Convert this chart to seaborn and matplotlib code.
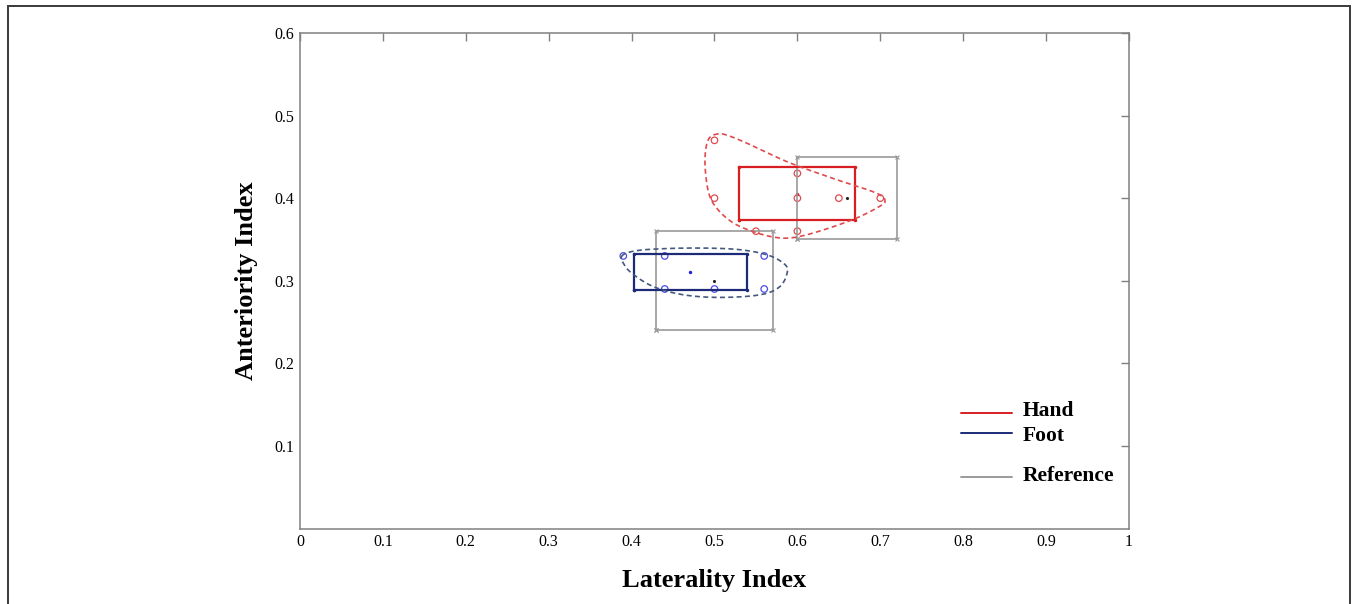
import numpy as np
import pandas as pd
import seaborn as sns
import matplotlib.pyplot as plt
from matplotlib.patches import Rectangle

# measured points
hand_x = [0.50, 0.50, 0.60, 0.60, 0.65, 0.70, 0.55, 0.60]
hand_y = [0.47, 0.40, 0.43, 0.40, 0.40, 0.40, 0.36, 0.36]
foot_x = [0.39, 0.44, 0.56, 0.44, 0.50, 0.56]
foot_y = [0.33, 0.33, 0.33, 0.29, 0.29, 0.29]

# group means
hand_mean = (0.60, 0.405)
foot_mean = (0.47, 0.31)
ref_means_x = [0.66, 0.50]
ref_means_y = [0.40, 0.30]

# boxes: xmin, xmax, ymin, ymax
hand_box = [0.53, 0.67, 0.374, 0.438]
foot_box = [0.403, 0.539, 0.289, 0.332]
ref_hand_box = [0.60, 0.72, 0.35, 0.45]
ref_foot_box = [0.43, 0.57, 0.24, 0.36]

# enclosing outlines
hand_outline_x = [0.5046, 0.4926, 0.4885, 0.4926, 0.5026, 0.5227, 0.551, 0.579, 0.603,
                  0.639, 0.6715, 0.6956, 0.7057, 0.6956, 0.6474, 0.591, 0.543, 0.5187]
hand_outline_y = [0.4778, 0.4709, 0.4446, 0.408, 0.388, 0.370, 0.358, 0.3518, 0.3537,
                  0.364, 0.376, 0.388, 0.396, 0.406, 0.4224, 0.4427, 0.4648, 0.475]
foot_outline_x = [0.388, 0.398, 0.422, 0.474, 0.5267, 0.563, 0.583, 0.588, 0.579,
                  0.555, 0.5066, 0.4624, 0.426, 0.400, 0.390]
foot_outline_y = [0.3295, 0.3348, 0.338, 0.3396, 0.338, 0.3315, 0.3214, 0.3113, 0.293,
                  0.283, 0.2798, 0.283, 0.293, 0.3093, 0.3214]

x_ticks = [0, 0.1, 0.2, 0.3, 0.4, 0.5, 0.6, 0.7, 0.8, 0.9, 1]
x_tick_labels = ["0", "0.1", "0.2", "0.3", "0.4", "0.5", "0.6", "0.7", "0.8", "0.9", "1"]
y_ticks = [0.1, 0.2, 0.3, 0.4, 0.5, 0.6]
y_tick_labels = ["0.1", "0.2", "0.3", "0.4", "0.5", "0.6"]

RED = "#d81e22"
RED_DASH = "#e04a4d"
NAVY = "#1c2a78"
BLUE_DASH = "#44587f"
BLUE_PT = "#4b4be6"
GRAY = "#9a9a9a"


def smooth_closed(xs, ys, n=24):
    # closed Catmull-Rom curve through the outline points
    P = np.column_stack([xs, ys])
    k = len(P)
    t = np.linspace(0, 1, n, endpoint=False)[:, None]
    out = []
    for i in range(k):
        p0, p1, p2, p3 = P[i - 1], P[i], P[(i + 1) % k], P[(i + 2) % k]
        seg = 0.5 * ((2 * p1) + (-p0 + p2) * t + (2 * p0 - 5 * p1 + 4 * p2 - p3) * t ** 2
                     + (-p0 + 3 * p1 - 3 * p2 + p3) * t ** 3)
        out.append(seg)
    out = np.vstack(out + [P[:1]])
    return out[:, 0], out[:, 1]


def box_frame(b):
    x0, x1, y0, y1 = b
    return pd.DataFrame({"x": [x0, x1, x1, x0, x0], "y": [y0, y0, y1, y1, y0]})


sns.set_style("white")
plt.rcParams["font.family"] = ["Liberation Serif", "DejaVu Serif"]
plt.rcParams["text.color"] = "black"

fig = plt.figure(figsize=(13.56, 6.04), dpi=100)
ax = fig.add_axes([0.2212, 0.125, 0.6114, 0.8204])

# reference boxes
for b in [ref_hand_box, ref_foot_box]:
    d = box_frame(b)
    ax.plot(d["x"], d["y"], color=GRAY, lw=1.2, marker="x", ms=3, mew=0.8)

# group boxes
d = box_frame(hand_box)
ax.plot(d["x"], d["y"], color=RED, lw=1.6, marker=".", ms=3)
d = box_frame(foot_box)
ax.plot(d["x"], d["y"], color=NAVY, lw=1.6, marker=".", ms=3)

# enclosing outlines
hx, hy = smooth_closed(hand_outline_x, hand_outline_y)
ax.plot(hx, hy, color=RED_DASH, lw=1.2, ls=(0, (3, 2)))
fx, fy = smooth_closed(foot_outline_x, foot_outline_y)
ax.plot(fx, fy, color=BLUE_DASH, lw=1.2, ls=(0, (3, 2)))

# points
sns.scatterplot(x=hand_x, y=hand_y, marker="o", s=22, facecolor="none",
                edgecolor=RED_DASH, linewidth=0.9, ax=ax)
sns.scatterplot(x=foot_x, y=foot_y, marker="o", s=22, facecolor="none",
                edgecolor=BLUE_PT, linewidth=0.9, ax=ax)

# means
sns.scatterplot(x=[hand_mean[0]], y=[hand_mean[1]], color=RED, s=6, linewidth=0, ax=ax)
sns.scatterplot(x=[foot_mean[0]], y=[foot_mean[1]], color="#2020e0", s=6, linewidth=0, ax=ax)
sns.scatterplot(x=ref_means_x, y=ref_means_y, color="#222222", s=5, linewidth=0, ax=ax)

ax.set_xlim(0, 1)
ax.set_ylim(0, 0.6)
ax.set_xticks(x_ticks)
ax.set_xticklabels(x_tick_labels)
ax.set_yticks(y_ticks)
ax.set_yticklabels(y_tick_labels)
ax.tick_params(direction="in", length=6, width=1, color="#808080", labelsize=11.5,
               labelcolor="black", top=True, right=True, pad=4)
for s in ax.spines.values():
    s.set_color("#808080")
    s.set_linewidth(1.1)
ax.set_xlabel("Laterality Index", fontsize=19, fontweight="bold", labelpad=14,
              color="black")
ax.set_ylabel("Anteriority Index", fontsize=19, fontweight="bold", labelpad=12,
              color="black")

# legend drawn by hand: (label, colour, line y, text y) in axes fractions
leg = [("Hand", RED, 0.2339, 0.238), ("Foot", NAVY, 0.1935, 0.187),
       ("Reference", GRAY, 0.1046, 0.106)]
for name, c, ly, ty in leg:
    ax.plot([0.797, 0.859], [ly, ly], color=c, lw=1.4, transform=ax.transAxes)
    ax.text(0.872, ty, name, transform=ax.transAxes, fontsize=15.5, fontweight="bold",
            va="center", ha="left", color="black")

# outer frame
fig.patches.append(Rectangle((0.006, -0.02), 0.9897, 1.01, transform=fig.transFigure,
                             fill=False, edgecolor="#3a3a3a", lw=1.4))

fig.savefig("out.png", dpi=100)
